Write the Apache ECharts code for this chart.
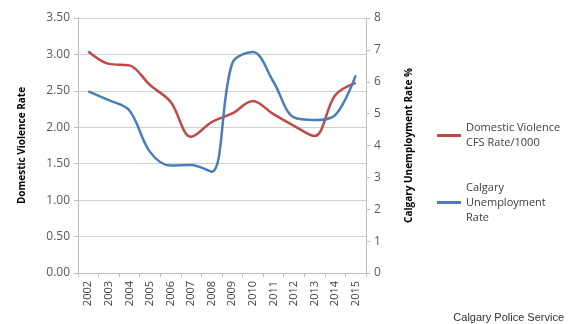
<!DOCTYPE html>
<html><head><meta charset="utf-8">
<script src="https://cdn.jsdelivr.net/npm/echarts@6/dist/echarts.min.js"></script>
<style>html,body{margin:0;padding:0;background:#fff}#c{width:570px;height:324px}</style>
</head><body><div id="c"></div>
<script>
var years = ['2002','2003','2004','2005','2006','2007','2008','2009','2010','2011','2012','2013','2014','2015'];
var dvRate = [3.04,2.87,2.85,2.58,2.35,1.87,2.07,2.19,2.36,2.18,2.02,1.88,2.44,2.61];
var unemployment = [5.7,5.42,5.1,3.8,3.37,3.39,3.18,6.58,6.93,6.0,4.88,4.8,4.95,6.2];
var dvName = 'Domestic Violence\nCFS Rate/1000';
var unName = 'Calgary\nUnemployment\nRate';
var leftAxisTitle = 'Domestic Violence Rate';
var rightAxisTitle = 'Calgary Unemployment Rate %';
var credit = 'Calgary Police Service';

var font = 'Open Sans';
var chart = echarts.init(document.getElementById('c'), null, {renderer:'canvas'});
chart.setOption({
  animation:false,
  backgroundColor:'#fff',
  grid:{left:78,right:204,top:18,bottom:51},
  legend:[
    {data:[dvName],left:437,top:113,padding:0,orient:'vertical',itemWidth:24,itemHeight:3,
     icon:'rect',textStyle:{fontFamily:font,fontSize:11,color:'#404040',lineHeight:15,padding:[15,0,0,0]}},
    {data:[unName],left:437,top:165,padding:0,orient:'vertical',itemWidth:24,itemHeight:3,
     icon:'rect',textStyle:{fontFamily:font,fontSize:11,color:'#404040',lineHeight:15,padding:[30,0,0,0]}}
  ],
  graphic:[{type:'text',right:6,bottom:1,style:{text:credit,fontFamily:'Liberation Sans',fontSize:11,fill:'#333'}}],
  xAxis:{type:'category',data:years,boundaryGap:true,
    axisLine:{lineStyle:{color:'#bfbfbf'}},
    axisTick:{show:true,length:4,lineStyle:{color:'#bfbfbf'}},
    axisLabel:{rotate:90,fontFamily:font,fontSize:11,color:'#404040',margin:8}},
  yAxis:[
    {type:'value',min:0,max:3.5,interval:0.5,position:'left',
     name:leftAxisTitle,nameLocation:'middle',nameRotate:90,nameGap:51,
     nameTextStyle:{fontFamily:font,fontSize:10,fontWeight:'bold',color:'#000'},
     axisLine:{show:true,lineStyle:{color:'#bfbfbf'}},
     axisTick:{show:true,length:4,lineStyle:{color:'#bfbfbf'}},
     axisLabel:{formatter:function(v){return v.toFixed(2);},fontFamily:font,fontSize:12,color:'#595959',margin:8},
     splitLine:{show:true,lineStyle:{color:'#d0d0d0',width:1}}},
    {type:'value',min:0,max:8,interval:1,position:'right',
     name:rightAxisTitle,nameLocation:'middle',nameRotate:90,nameGap:38,
     nameTextStyle:{fontFamily:font,fontSize:10,fontWeight:'bold',color:'#000'},
     axisLine:{show:true,lineStyle:{color:'#bfbfbf'}},
     axisTick:{show:true,length:4,lineStyle:{color:'#bfbfbf'}},
     axisLabel:{fontFamily:font,fontSize:12,color:'#595959',margin:8},
     splitLine:{show:false}}
  ],
  series:[
    {name:dvName,type:'line',data:dvRate,yAxisIndex:0,smooth:0.35,showSymbol:false,
     lineStyle:{color:'#BE4B48',width:2.5},itemStyle:{color:'#BE4B48'}},
    {name:unName,type:'line',data:unemployment,yAxisIndex:1,smooth:0.35,showSymbol:false,
     lineStyle:{color:'#4A7EBB',width:2.5},itemStyle:{color:'#4A7EBB'}}
  ]
});
</script></body></html>
